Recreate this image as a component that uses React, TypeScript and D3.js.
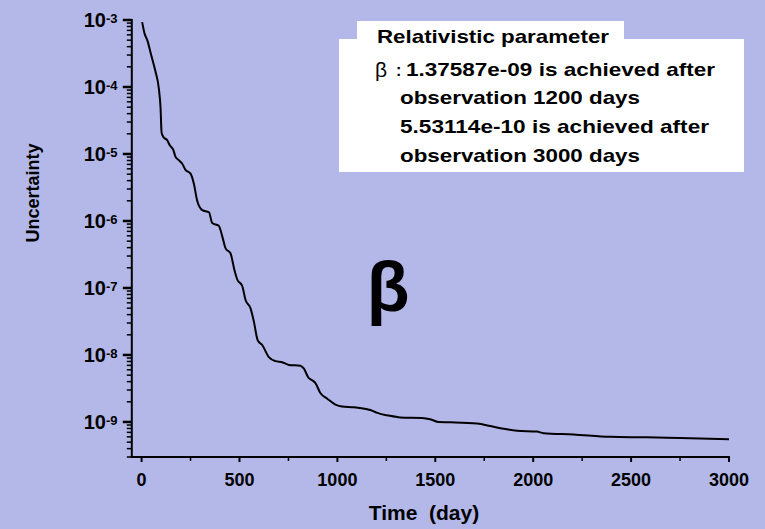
import React from "react";
import * as d3 from "d3";

// Observation time (days) and the uncertainty of the relativistic parameter beta
const days = [
  3, 15, 29, 49, 71, 88, 97, 102, 111, 131, 144, 162, 173, 190, 207, 224, 250,
  267, 284, 310, 344, 361, 394, 412, 429, 454, 474, 488, 514, 531, 556, 573,
  593, 616, 650, 684, 718, 752, 811, 828, 854, 871, 888, 913, 947, 990, 1024,
  1084, 1152, 1177, 1200, 1219, 1253, 1321, 1432, 1474, 1517, 1577, 1713,
  1781, 1849, 1917, 2019, 2053, 2206, 2393, 2580, 2750, 3000,
];
const uncertainty = [
  9.3e-4, 6.3e-4, 5.0e-4, 3.0e-4, 1.7e-4, 9.5e-5, 4.8e-5, 2.1e-5, 1.8e-5,
  1.6e-5, 1.35e-5, 1.15e-5, 9.1e-6, 8.1e-6, 7.2e-6, 5.8e-6, 5.1e-6, 3.6e-6,
  2.0e-6, 1.45e-6, 1.35e-6, 9.3e-7, 8.5e-7, 5.9e-7, 3.9e-7, 3.3e-7, 1.86e-7,
  1.35e-7, 1.07e-7, 6.6e-8, 5.0e-8, 3.2e-8, 1.66e-8, 1.41e-8, 9.3e-9, 8.1e-9,
  7.8e-9, 7.1e-9, 6.9e-9, 6.3e-9, 4.5e-9, 4.2e-9, 3.8e-9, 2.7e-9, 2.24e-9,
  1.82e-9, 1.7e-9, 1.66e-9, 1.55e-9, 1.48e-9, 1.37587e-9, 1.32e-9, 1.26e-9,
  1.17e-9, 1.15e-9, 1.1e-9, 1.0e-9, 9.9e-10, 9.5e-10, 8.7e-10, 7.9e-10,
  7.4e-10, 7.2e-10, 6.8e-10, 6.5e-10, 6.0e-10, 5.9e-10, 5.75e-10, 5.53114e-10,
];

const xMajorTicks = [0, 500, 1000, 1500, 2000, 2500, 3000];
const xMinorTicks = [250, 750, 1250, 1750, 2250, 2750];
const yExponents = [-3, -4, -5, -6, -7, -8, -9];

const headerLine = "Relativistic parameter";
const resultLines = [
  "1.37587e-09 is achieved after",
  "observation 1200 days",
  "5.53114e-10 is achieved after",
  "observation 3000 days",
];

const FONT = "'Liberation Sans', Arial, Helvetica, sans-serif";
const BG = "#b4b8e8";

export default function App() {
  const W = 765;
  const H = 529;
  const x = d3.scaleLinear().domain([-50, 3000]).range([131.8, 729]);
  const y = d3.scaleLog().domain([3e-10, 1e-3]).range([457, 20]);

  const line = d3
    .line<number>()
    .x((_, i) => x(days[i]))
    .y((d) => y(d))
    .curve(d3.curveMonotoneX);

  // minor ticks of the log axis (2..9 within each decade, inside the domain)
  const yMinor: number[] = [];
  for (let e = -10; e <= -4; e++) {
    for (let m = 2; m <= 9; m++) {
      const v = m * Math.pow(10, e);
      if (v >= 3e-10 && v < 1e-3) yMinor.push(v);
    }
  }

  const axisX = x.range()[0];
  const axisY = y.range()[0];

  const resultX = [406, 400, 400, 400];
  const resultY = [76, 104, 133, 162];
  const resultLen = [309, 240, 309, 240];

  return (
    <svg
      width={W}
      height={H}
      style={{ position: "fixed", left: 0, top: 0, display: "block" }}
      fontFamily={FONT}
    >
      <rect x={0} y={0} width={W} height={H} fill={BG} />

      {/* curve */}
      <path
        d={line(uncertainty) || ""}
        fill="none"
        stroke="#000"
        strokeWidth={2}
        strokeLinejoin="round"
      />

      {/* y axis */}
      <line x1={axisX} x2={axisX} y1={y(1e-3) - 1} y2={axisY + 1} stroke="#000" strokeWidth={2} />
      {yMinor.map((v) => (
        <line key={`ym${v}`} x1={axisX - 5} x2={axisX} y1={y(v)} y2={y(v)} stroke="#000" strokeWidth={1.5} />
      ))}
      {yExponents.map((e) => {
        const ty = y(Math.pow(10, e));
        return (
          <g key={`ye${e}`}>
            <line x1={axisX - 9} x2={axisX} y1={ty} y2={ty} stroke="#000" strokeWidth={2.5} />
            <text x={106} y={ty + 7} textAnchor="end" fontSize={20} fontWeight="bold" fill="#000">
              10
            </text>
            <text x={106} y={ty + 3} textAnchor="start" fontSize={13} fontWeight="bold" fill="#000">
              {`${e}`}
            </text>
          </g>
        );
      })}
      <text
        transform="translate(39,193) rotate(-90)"
        textAnchor="middle"
        fontSize={18}
        fontWeight="bold"
        fill="#000"
      >
        Uncertainty
      </text>

      {/* x axis */}
      <line x1={axisX - 1} x2={x(3000) + 1} y1={axisY} y2={axisY} stroke="#000" strokeWidth={2} />
      {xMinorTicks.map((t) => (
        <line key={`xm${t}`} x1={x(t)} x2={x(t)} y1={axisY} y2={axisY + 4} stroke="#000" strokeWidth={1.5} />
      ))}
      {xMajorTicks.map((t) => (
        <g key={`xt${t}`}>
          <line x1={x(t)} x2={x(t)} y1={axisY} y2={axisY + 5} stroke="#000" strokeWidth={2} />
          <text x={x(t)} y={486} textAnchor="middle" fontSize={18} fontWeight="bold" fill="#000">
            {t}
          </text>
        </g>
      ))}
      <text
        x={424}
        y={520}
        textAnchor="middle"
        fontSize={21}
        fontWeight="bold"
        fill="#000"
        style={{ whiteSpace: "pre" }}
      >
        {"Time  (day)"}
      </text>

      {/* big beta label */}
      <text x={388} y={311} textAnchor="middle" fontSize={70} fontWeight="bold" fill="#000">
        β
      </text>

      {/* info box */}
      <rect x={357} y={21} width={267} height={19} fill="#fff" />
      <rect x={339} y={39} width={405} height={133} fill="#fff" />
      <text
        x={377}
        y={43}
        fontSize={18.5}
        fontWeight="bold"
        fill="#000"
        textLength={232}
        lengthAdjust="spacingAndGlyphs"
      >
        {headerLine}
      </text>
      <text x={375} y={77} fontSize={21} fill="#000">
        β
      </text>
      <text x={396} y={76} fontSize={16} fontWeight="bold" fill="#000">
        :
      </text>
      {resultLines.map((s, i) => (
        <text
          key={`rl${i}`}
          x={resultX[i]}
          y={resultY[i]}
          fontSize={19}
          fontWeight="bold"
          fill="#000"
          textLength={resultLen[i]}
          lengthAdjust="spacingAndGlyphs"
        >
          {s}
        </text>
      ))}
    </svg>
  );
}
